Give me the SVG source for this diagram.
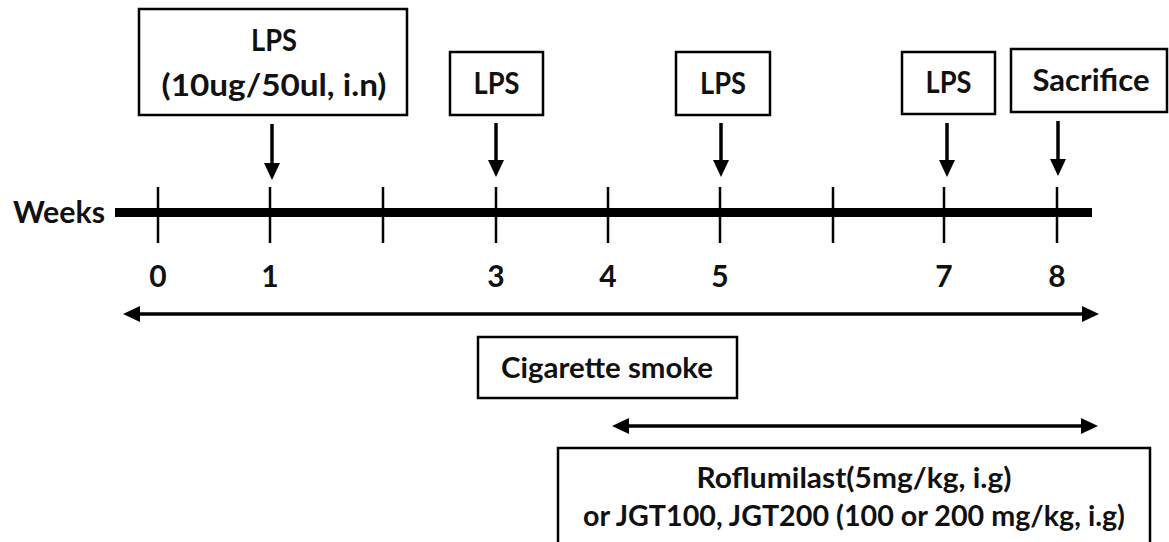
<svg xmlns="http://www.w3.org/2000/svg" width="1169" height="542" viewBox="0 0 1169 542">
<style>
.box{fill:#fff;stroke:#000;stroke-width:2.5}
.t{font-family:Lato,"Open Sans","Liberation Sans",sans-serif;font-weight:bold;fill:#111;text-anchor:middle}
.lbl{font-size:30px}
.arr{stroke:#000;stroke-width:3.5;fill:none}
.tick{stroke:#000;stroke-width:2.5}
</style>
<defs>
<marker id="ah" markerUnits="userSpaceOnUse" markerWidth="17" markerHeight="16" refX="9" refY="8" orient="auto-start-reverse">
<path d="M0,0 L17,8 L0,16 z" fill="#000"/>
</marker>
</defs>
<rect width="1169" height="542" fill="#fff"/>

<g id="node-lps1">
<rect class="box" x="139" y="9" width="268" height="106"/>
<text class="t lbl" x="274" y="51" textLength="46" lengthAdjust="spacingAndGlyphs">LPS</text>
<text class="t lbl" x="274" y="96" textLength="225" lengthAdjust="spacingAndGlyphs">(10ug/50ul, i.n)</text>
</g>
<g id="node-lps2">
<rect class="box" x="450" y="52" width="93" height="63"/>
<text class="t lbl" x="496.5" y="94" textLength="46" lengthAdjust="spacingAndGlyphs">LPS</text>
</g>
<g id="node-lps3">
<rect class="box" x="676" y="52" width="94" height="63"/>
<text class="t lbl" x="723" y="94" textLength="46" lengthAdjust="spacingAndGlyphs">LPS</text>
</g>
<g id="node-lps4">
<rect class="box" x="902" y="52" width="93" height="62"/>
<text class="t lbl" x="948.5" y="93" textLength="46" lengthAdjust="spacingAndGlyphs">LPS</text>
</g>
<g id="node-sacrifice">
<rect class="box" x="1011" y="49" width="156" height="63"/>
<text class="t lbl" x="1091" y="91" textLength="117" lengthAdjust="spacingAndGlyphs">Sacrifice</text>
</g>

<g id="timeline">
<text class="t lbl" x="105" y="223" style="text-anchor:end" textLength="92" lengthAdjust="spacingAndGlyphs">Weeks</text>
<line x1="115" y1="212.5" x2="1092" y2="212.5" stroke="#000" stroke-width="9"/>
<line class="tick" x1="158" y1="187" x2="158" y2="243"/>
<line class="tick" x1="270" y1="187" x2="270" y2="243"/>
<line class="tick" x1="383" y1="187" x2="383" y2="243"/>
<line class="tick" x1="496" y1="187" x2="496" y2="243"/>
<line class="tick" x1="608" y1="187" x2="608" y2="243"/>
<line class="tick" x1="720" y1="187" x2="720" y2="243"/>
<line class="tick" x1="833" y1="187" x2="833" y2="243"/>
<line class="tick" x1="944" y1="187" x2="944" y2="243"/>
<line class="tick" x1="1057" y1="187" x2="1057" y2="243"/>
<text class="t lbl" x="158" y="287">0</text>
<text class="t lbl" x="270" y="287">1</text>
<text class="t lbl" x="496" y="287">3</text>
<text class="t lbl" x="608" y="287">4</text>
<text class="t lbl" x="720" y="287">5</text>
<text class="t lbl" x="944" y="287">7</text>
<text class="t lbl" x="1057" y="287">8</text>
</g>

<g id="node-smoke">
<rect class="box" x="478" y="337" width="259" height="61"/>
<text class="t" x="607" y="378" font-size="28" textLength="212" lengthAdjust="spacingAndGlyphs">Cigarette smoke</text>
</g>
<g id="node-treatment">
<rect class="box" x="558" y="448" width="592" height="120"/>
<text class="t" x="854" y="488" font-size="28" textLength="315" lengthAdjust="spacingAndGlyphs">Roflumilast(5mg/kg, i.g)</text>
<text class="t" x="854" y="526" font-size="28" textLength="542" lengthAdjust="spacingAndGlyphs">or JGT100, JGT200 (100 or 200 mg/kg, i.g)</text>
</g>

<g id="connectors">
<line class="arr" x1="272" y1="124" x2="272" y2="172" marker-end="url(#ah)"/>
<line class="arr" x1="496" y1="123" x2="496" y2="169" marker-end="url(#ah)"/>
<line class="arr" x1="721" y1="123" x2="721" y2="169" marker-end="url(#ah)"/>
<line class="arr" x1="947" y1="123" x2="947" y2="169" marker-end="url(#ah)"/>
<line class="arr" x1="1058" y1="121" x2="1058" y2="168" marker-end="url(#ah)"/>
<line class="arr" x1="131" y1="314" x2="1091" y2="314" marker-start="url(#ah)" marker-end="url(#ah)"/>
<line class="arr" x1="620" y1="426" x2="1090" y2="426" marker-start="url(#ah)" marker-end="url(#ah)"/>
</g>
</svg>
